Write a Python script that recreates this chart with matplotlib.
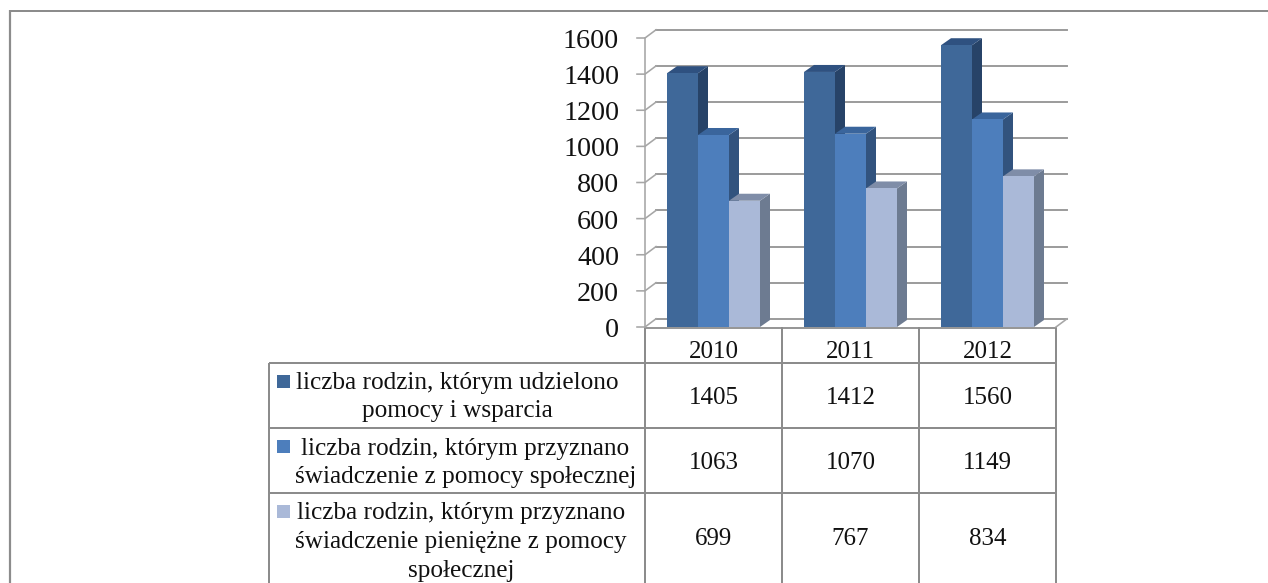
import matplotlib
matplotlib.use("Agg")
import matplotlib.pyplot as plt
from matplotlib.patches import Polygon, Rectangle

years = ["2010", "2011", "2012"]
families_supported = [1405, 1412, 1560]
families_benefit = [1063, 1070, 1149]
families_cash = [699, 767, 834]
y_ticks = [0, 200, 400, 600, 800, 1000, 1200, 1400, 1600]
row_labels = [
    ["liczba rodzin, którym udzielono", "pomocy i wsparcia"],
    [" liczba rodzin, którym przyznano", "świadczenie z pomocy społecznej"],
    ["liczba rodzin, którym przyznano", "świadczenie pieniężne z pomocy", "społecznej"],
]

plt.rcParams["font.family"] = ["Liberation Serif", "DejaVu Serif"]
W, H = 1268, 583
fig = plt.figure(figsize=(W / 100, H / 100), dpi=100, facecolor="white")
px = 72 / 100  # points per pixel

# overlay in pixel coordinates for frame and table
ov = fig.add_axes([0, 0, 1, 1], zorder=1)
ov.set_xlim(0, W); ov.set_ylim(H, 0); ov.axis("off"); ov.patch.set_alpha(0)

# chart axes: front plane
L, R, T, B = 645, 1056, 38, 327
ax = fig.add_axes([L / W, 1 - B / H, (R - L) / W, (B - T) / H], zorder=2)
ax.set_xlim(0, 3); ax.set_ylim(0, 1600); ax.axis("off"); ax.patch.set_alpha(0)

val_per_px = 1600 / 289
dx = 11.0 / 137         # wall depth in category units
dy = 8.2 * val_per_px   # wall depth in value units
bar_dx = 10.0 / 137     # bar depth
bar_dy = 7.0 * val_per_px
GRID = "#9a9a9a"
TXT = "#111111"

# walls and ticks
tick_dx = 8.0 / 137
for i, v in enumerate(y_ticks):
    ax.plot([dx, 3 + dx], [v + dy, v + dy], color=GRID, lw=1.6 * px * 1.2, clip_on=False, zorder=1)
    ax.plot([-tick_dx, 0, dx], [v, v, v + dy], color="#a6a6a6", lw=1.6 * px, clip_on=False, zorder=1)
    ov.text(619, (B - (B - T) * v / 1600) + 10, str(v), ha="right", va="baseline",
            fontsize=28 * px, color=TXT)
ax.plot([0, 0], [0, 1600], color="#a6a6a6", lw=1.6 * px, clip_on=False, zorder=1)
ax.plot([3, 3 + dx], [0, dy], color="#a6a6a6", lw=1.6 * px, clip_on=False, zorder=1)

# 3D bars
series = [families_supported, families_benefit, families_cash]
fronts = ["#3f6899", "#4d7ebc", "#aab9d8"]
sides = ["#274368", "#32537e", "#6d7b91"]
tops = ["#2f5180", "#3a659c", "#7f8da8"]
bw = 31.0 / 137
start = 22.0 / 137
for c in range(len(years)):
    for s, vals in enumerate(series):
        x0 = c + start + s * bw
        v = vals[c]
        z = 3 + s * 2
        ax.bar(x0, v, width=bw, align="edge", color=fronts[s], lw=0, zorder=z + 1)
        ax.add_patch(Polygon([(x0 + bw, 0), (x0 + bw + bar_dx, bar_dy), (x0 + bw + bar_dx, v + bar_dy), (x0 + bw, v)],
                             closed=True, fc=sides[s], ec="none", zorder=z, clip_on=False))
        ax.add_patch(Polygon([(x0, v), (x0 + bar_dx, v + bar_dy), (x0 + bw + bar_dx, v + bar_dy), (x0 + bw, v)],
                             closed=True, fc=tops[s], ec="none", zorder=z, clip_on=False))

# outer frame
FR = "#8c8c8c"
ov.plot([9.5, W], [10.5, 10.5], color=FR, lw=2 * px, solid_capstyle="butt")
ov.plot([9.5, 9.5], [10, H], color=FR, lw=2.2 * px, solid_capstyle="butt")

# data table
col_x = [645, 782, 919, 1056]
row_y = [363, 428, 493]
left = 268.5
for x in col_x:
    ov.plot([x, x], [327, H], color=FR, lw=2 * px, solid_capstyle="butt", zorder=5)
ov.plot([left, left], [363, H], color=FR, lw=2 * px, solid_capstyle="butt")
ov.plot([645, 1056], [327.5, 327.5], color=FR, lw=1.8 * px, zorder=5)
for y in row_y:
    ov.plot([left, 1056], [y, y], color=FR, lw=2 * px, solid_capstyle="butt")

centers = [(col_x[i] + col_x[i + 1]) / 2 for i in range(3)]
for cx, yr in zip(centers, years):
    ov.text(cx, 358, yr, ha="center", va="baseline", fontsize=25 * px, color=TXT)
for base, vals in zip([404, 469, 545], series):
    for cx, v in zip(centers, vals):
        ov.text(cx, base, str(v), ha="center", va="baseline", fontsize=25 * px, color=TXT)

line_base = [[389, 417], [455, 483], [519, 548, 577]]
line_cx = [457, 465.5, 461]
swatch_y = [375, 440, 505]
for lines, bases, lx, sy, col in zip(row_labels, line_base, line_cx, swatch_y, fronts):
    ov.add_patch(Rectangle((277, sy), 13, 13, fc=col, ec="none"))
    for t, b in zip(lines, bases):
        ov.text(lx, b, t.strip(), ha="center", va="baseline", fontsize=25.3 * px, color=TXT)

fig.savefig("out.png", dpi=100)
